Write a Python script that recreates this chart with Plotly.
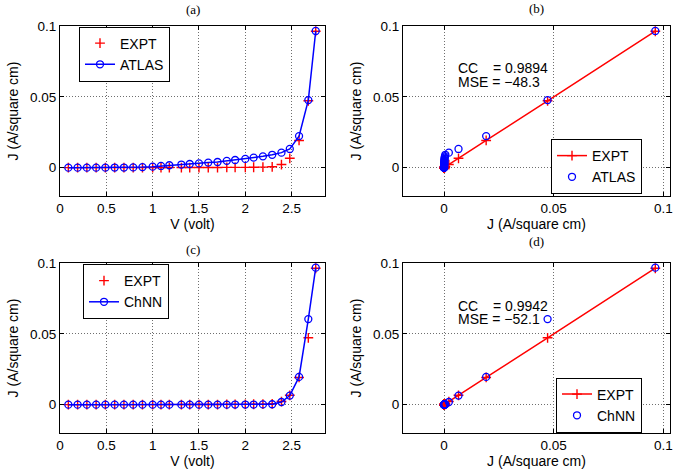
import plotly.graph_objects as go

# ---------------- data ----------------
V = [0.09, 0.19, 0.29, 0.39, 0.49, 0.59, 0.69, 0.79, 0.89, 1.00, 1.09, 1.18, 1.31, 1.40,
     1.50, 1.60, 1.70, 1.80, 1.89, 2.00, 2.09, 2.19, 2.29, 2.39, 2.48, 2.58, 2.68, 2.76]
J_expt = [0.0000, 0.0000, 0.0000, 0.0000, 0.0000, 0.0000, 0.0000, 0.0000, 0.0000, 0.0000,
          0.0000, 0.0001, 0.0001, 0.0001, 0.0001, 0.0001, 0.0001, 0.0002, 0.0002, 0.0002,
          0.0003, 0.0004, 0.0006, 0.0022, 0.0066, 0.0192, 0.0472, 0.0963]
J_atlas = [0.0000, 0.0000, 0.0000, 0.0000, 0.0000, 0.0001, 0.0001, 0.0002, 0.0004, 0.0007,
           0.0012, 0.0017, 0.0022, 0.0026, 0.0030, 0.0036, 0.0040, 0.0048, 0.0054, 0.0062,
           0.0071, 0.0080, 0.0091, 0.0106, 0.0132, 0.0223, 0.0477, 0.0965]
J_chnn = [0.0000, 0.0000, 0.0000, 0.0000, 0.0000, 0.0000, 0.0000, 0.0000, 0.0000, 0.0000,
          0.0000, 0.0000, 0.0000, 0.0000, 0.0000, 0.0000, 0.0000, 0.0000, 0.0001, 0.0001,
          0.0001, 0.0002, 0.0003, 0.0019, 0.0064, 0.0196, 0.0604, 0.0967]

panel_titles = ["(a)", "(b)", "(c)", "(d)"]
stats_atlas = ["CC", "= 0.9894", "MSE = \u221248.3"]
stats_chnn = ["CC", "= 0.9942", "MSE = \u221252.1"]

v_ticks = [0, 0.5, 1, 1.5, 2, 2.5]
v_ticktext = ["0", "0.5", "1", "1.5", "2", "2.5"]
j_ticks = [0, 0.05, 0.1]
j_ticktext = ["0", "0.05", "0.1"]

# ---------------- styles ----------------
RED = "#ff0000"
BLUE = "#0000ff"
FONT = "Liberation Sans, Arial, sans-serif"
SERIF = "Liberation Serif, Times New Roman, serif"

W, H = 690, 472


def px(x):
    return x / W


def py(y):
    return 1 - y / H


xdom_left = [px(60), px(325)]
xdom_right = [px(403), px(670)]
ydom_top = [py(196), py(26)]
ydom_bot = [py(433), py(263)]

plus_marker = dict(symbol="cross-thin", size=7, color=RED, line=dict(color=RED, width=1.4))
circ_marker = dict(symbol="circle-open", size=7, color=BLUE, line=dict(color=BLUE, width=1.3))

fig = go.Figure()

# (a)
fig.add_trace(go.Scatter(x=V, y=J_expt, mode="markers", name="EXPT", marker=plus_marker,
                         xaxis="x", yaxis="y", legend="legend"))
fig.add_trace(go.Scatter(x=V, y=J_atlas, mode="lines+markers", name="ATLAS", marker=circ_marker,
                         line=dict(color=BLUE, width=1.5), xaxis="x", yaxis="y", legend="legend"))
# (b)
fig.add_trace(go.Scatter(x=J_expt, y=J_expt, mode="lines+markers", name="EXPT", marker=plus_marker,
                         line=dict(color=RED, width=1.5), xaxis="x2", yaxis="y2", legend="legend2"))
fig.add_trace(go.Scatter(x=J_expt, y=J_atlas, mode="markers", name="ATLAS", marker=circ_marker,
                         xaxis="x2", yaxis="y2", legend="legend2"))
# (c)
fig.add_trace(go.Scatter(x=V, y=J_expt, mode="markers", name="EXPT", marker=plus_marker,
                         xaxis="x3", yaxis="y3", legend="legend3"))
fig.add_trace(go.Scatter(x=V, y=J_chnn, mode="lines+markers", name="ChNN", marker=circ_marker,
                         line=dict(color=BLUE, width=1.5), xaxis="x3", yaxis="y3", legend="legend3"))
# (d)
fig.add_trace(go.Scatter(x=J_expt, y=J_expt, mode="lines+markers", name="EXPT", marker=plus_marker,
                         line=dict(color=RED, width=1.5), xaxis="x4", yaxis="y4", legend="legend4"))
fig.add_trace(go.Scatter(x=J_expt, y=J_chnn, mode="markers", name="ChNN", marker=circ_marker,
                         xaxis="x4", yaxis="y4", legend="legend4"))


def axis(domain, anchor, rng, tickvals, ticktext, title, standoff):
    return dict(domain=domain, anchor=anchor, range=rng, tickvals=tickvals, ticktext=ticktext,
                showline=True, linecolor="black", linewidth=1, mirror="ticks",
                ticks="inside", ticklen=4, tickcolor="black", tickwidth=1,
                showgrid=True, gridcolor="#6e6e6e", gridwidth=1, griddash="1px,2px",
                zeroline=False, tickfont=dict(family=FONT, size=13.5, color="black"),
                title=dict(text=title, font=dict(family=FONT, size=14, color="black"),
                           standoff=standoff),
                automargin=False)


V_RANGE = [0, 2.86]
J_RANGE_X = [-0.0187, 0.103]
J_RANGE_Y = [-0.02, 0.1]
YT = "J (A/square cm)"

fig.update_layout(
    xaxis=axis(xdom_left, "y", V_RANGE, v_ticks, v_ticktext, "V (volt)", 1),
    yaxis=axis(ydom_top, "x", J_RANGE_Y, j_ticks, j_ticktext, YT, 8),
    xaxis2=axis(xdom_right, "y2", J_RANGE_X, j_ticks, j_ticktext, YT, 1),
    yaxis2=axis(ydom_top, "x2", J_RANGE_Y, j_ticks, j_ticktext, YT, 8),
    xaxis3=axis(xdom_left, "y3", V_RANGE, v_ticks, v_ticktext, "V (volt)", 1),
    yaxis3=axis(ydom_bot, "x3", J_RANGE_Y, j_ticks, j_ticktext, YT, 8),
    xaxis4=axis(xdom_right, "y4", J_RANGE_X, j_ticks, j_ticktext, YT, 1),
    yaxis4=axis(ydom_bot, "x4", J_RANGE_Y, j_ticks, j_ticktext, YT, 8),
)

leg_common = dict(bgcolor="white", bordercolor="black", borderwidth=1,
                  font=dict(family=FONT, size=14, color="black"),
                  xanchor="left", yanchor="middle", tracegroupgap=0)
fig.update_layout(
    legend=dict(x=px(79), y=py(54), **leg_common),
    legend2=dict(x=px(551), y=py(166.5), **leg_common),
    legend3=dict(x=px(83), y=py(291.5), **leg_common),
    legend4=dict(x=px(556), y=py(405), **leg_common),
)

annotations = []
title_pos = [((60 + 325) / 2, 10), ((403 + 670) / 2, 9), ((60 + 325) / 2, 249), ((403 + 670) / 2, 242)]
for t, (tx, ty) in zip(panel_titles, title_pos):
    annotations.append(dict(text=t, x=px(tx), y=py(ty), xref="paper", yref="paper",
                            showarrow=False, xanchor="center", yanchor="middle",
                            font=dict(family=SERIF, size=13, color="black")))

for stats, y1, y2 in [(stats_atlas, 68.3, 81.7), (stats_chnn, 305.5, 319)]:
    for text, tx, ty in [(stats[0], 456.5, y1), (stats[1], 491.5, y1), (stats[2], 456.5, y2)]:
        annotations.append(dict(text=text, x=px(tx), y=py(ty), xref="paper", yref="paper",
                                showarrow=False, xanchor="left", yanchor="middle",
                                borderpad=0,
                                font=dict(family=FONT, size=14, color="black")))

fig.update_layout(
    width=W, height=H,
    margin=dict(l=0, r=0, t=0, b=0),
    paper_bgcolor="white", plot_bgcolor="white",
    showlegend=True,
    annotations=annotations,
)

# remove the default 8px page margin so the 690x472 figure fills the window exactly
fig.write_html("out.html", config={"displayModeBar": False},
               post_script="document.body.style.margin='0';")
